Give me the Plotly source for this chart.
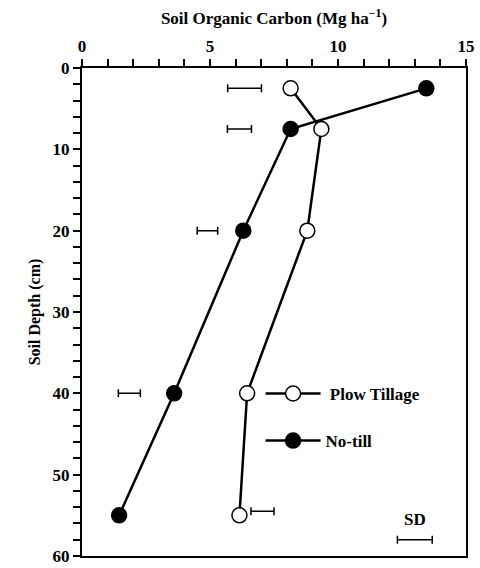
import plotly.graph_objects as go

depth = [2.5, 7.5, 20, 40, 55]
plow_tillage = [8.15, 9.35, 8.8, 6.45, 6.15]
no_till = [13.45, 8.15, 6.3, 3.6, 1.45]

sd_depth = [2.5, 7.5, 20, 40, 54.5]
sd_center = [6.35, 6.15, 4.9, 1.85, 7.05]
sd_half = [0.66, 0.47, 0.4, 0.43, 0.45]

sd_key_depth = [58]
sd_key_center = [13.0]
sd_key_half = [0.68]

FONT = "Liberation Serif"

fig = go.Figure()

fig.add_trace(go.Scatter(
    x=sd_center, y=sd_depth, mode="markers",
    marker=dict(size=1, color="rgba(0,0,0,0)"),
    error_x=dict(type="data", array=sd_half, symmetric=True, color="black", thickness=1.5, width=4),
    showlegend=False, hoverinfo="skip"))
fig.add_trace(go.Scatter(
    x=sd_key_center, y=sd_key_depth, mode="markers",
    marker=dict(size=1, color="rgba(0,0,0,0)"),
    error_x=dict(type="data", array=sd_key_half, symmetric=True, color="black", thickness=1.5, width=4),
    showlegend=False, hoverinfo="skip"))

fig.add_trace(go.Scatter(
    x=no_till, y=depth, mode="lines+markers", name="<b>No-till</b>",
    line=dict(color="black", width=2.5),
    marker=dict(size=15, color="black", line=dict(color="black", width=1.5)),
    legendrank=2, legendgroup="nt"))
fig.add_trace(go.Scatter(
    x=plow_tillage, y=depth, mode="lines+markers", name="<b> Plow Tillage</b>",
    line=dict(color="black", width=2.5),
    marker=dict(size=15, color="white", line=dict(color="black", width=1.5)),
    legendrank=1, legendgroup="pt"))

fig.add_annotation(x=13.0, y=55.5, text="<b>SD</b>", showarrow=False,
                   font=dict(family=FONT, size=17, color="black"))

fig.update_layout(
    width=480, height=568,
    margin=dict(l=82, r=14, t=68, b=12),
    paper_bgcolor="white", plot_bgcolor="white",
    font=dict(family=FONT, size=17, color="black"),
    showlegend=True,
    legend=dict(x=0.465, y=0.369, xanchor="left", yanchor="top",
                bgcolor="rgba(0,0,0,0)", tracegroupgap=22,
                traceorder="grouped",
                font=dict(family=FONT, size=17, color="black"), itemwidth=55),
    xaxis=dict(
        side="top", range=[0, 15], dtick=5, tick0=0, automargin=False,
        showline=True, linecolor="black", linewidth=2, mirror=True,
        ticks="outside", ticklen=7, tickwidth=1.5, tickcolor="black",
        minor=dict(dtick=1, ticks="outside", ticklen=7, tickwidth=1.5, tickcolor="black"),
        showgrid=False, zeroline=False,
        tickfont=dict(family=FONT, size=17),
        title=dict(text="<b>Soil Organic Carbon (Mg ha<sup>−1</sup>)</b>",
                   font=dict(family=FONT, size=17), standoff=8),
        tickprefix="<b>", ticksuffix="</b>",
    ),
    yaxis=dict(
        range=[60, 0], dtick=10, tick0=0, automargin=False,
        showline=True, linecolor="black", linewidth=2, mirror=True,
        ticks="outside", ticklen=7, tickwidth=1.5, tickcolor="black",
        minor=dict(dtick=2, ticks="outside", ticklen=7, tickwidth=1.5, tickcolor="black"),
        showgrid=False, zeroline=False,
        tickfont=dict(family=FONT, size=17),
        title=dict(text="<b>Soil Depth (cm)</b>", font=dict(family=FONT, size=16), standoff=8),
        tickprefix="<b>", ticksuffix="</b>",
    ),
)

fig.write_html("out.html", config={"displayModeBar": False},
               post_script="document.body.style.margin='0';")
